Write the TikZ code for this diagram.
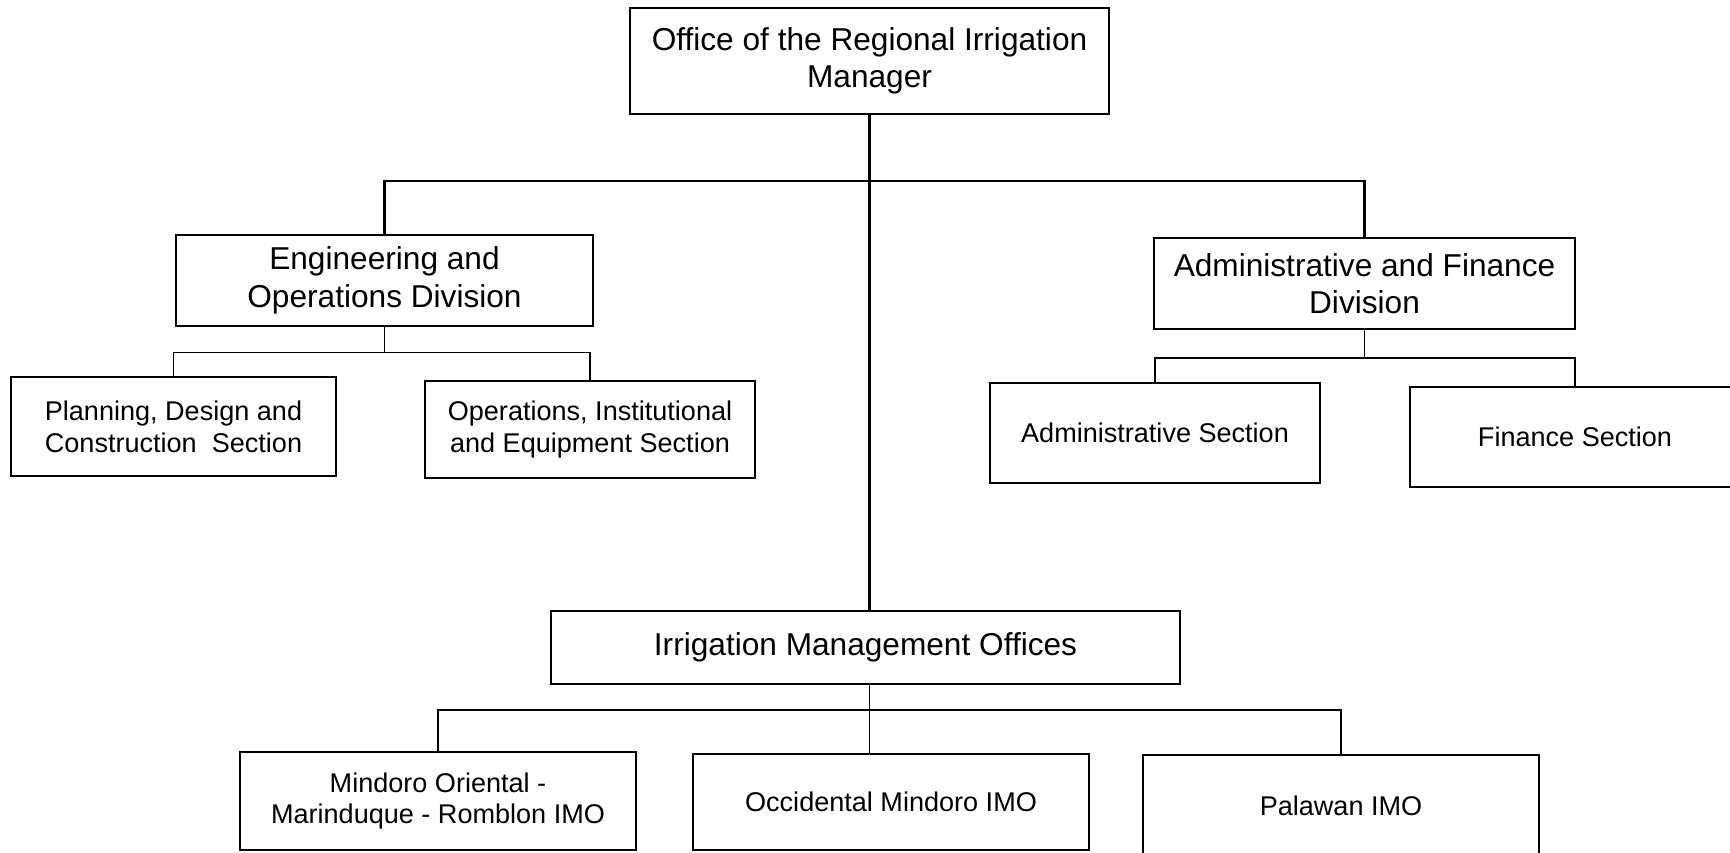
\documentclass[tikz,border=0pt]{standalone}
\usepackage{fontspec}
\setmainfont{Liberation Sans}

\begin{document}
\begin{tikzpicture}
\useasboundingbox (0,0) rectangle (17.30,-8.52);

%the office and the three big units, thick border and bigger text
\begin{scope}[every node/.style={rectangle,draw,line width=0.8pt,inner sep=0pt,align=center,
              font=\fontsize{9}{10.7}\selectfont}]
    \node[minimum width=4.79cm,minimum height=1.06cm] (orim) at (8.695,-0.61) {Office of the Regional Irrigation\\Manager};
    \node[minimum width=4.17cm,minimum height=0.91cm] (eod) at (3.845,-2.805) {Engineering and\\Operations Division};
    \node[minimum width=4.21cm,minimum height=0.91cm] (afd) at (13.645,-2.835) {Administrative and Finance\\Division};
    \node[minimum width=6.29cm,minimum height=0.73cm] (imo) at (8.655,-6.475) {Irrigation Management Offices};
\end{scope}

%the sections and the offices below them, thinner border and smaller text
\begin{scope}[every node/.style={rectangle,draw,line width=0.6pt,inner sep=0pt,align=center,
              font=\fontsize{7.7}{9.1}\selectfont}]
    \node[minimum width=3.25cm,minimum height=0.99cm] (pdc) at (1.735,-4.265) {Planning, Design and\\Construction\ \ Section};
    \node[minimum width=3.30cm,minimum height=0.97cm] (oie) at (5.90,-4.295) {Operations, Institutional\\and Equipment Section};
    \node[minimum width=3.30cm,minimum height=1.00cm] (adsec) at (11.55,-4.33) {Administrative Section};
    \node[minimum width=3.30cm,minimum height=1.00cm] (finsec) at (15.75,-4.37) {Finance Section};
    \node[minimum width=3.96cm,minimum height=0.98cm] (mor) at (4.38,-8.01) {Mindoro Oriental -\\Marinduque - Romblon IMO};
    \node[minimum width=3.96cm,minimum height=0.96cm] (occ) at (8.91,-8.02) {Occidental Mindoro IMO};
    \node[minimum width=3.96cm,minimum height=1.02cm] (pal) at (13.41,-8.06) {Palawan IMO};
\end{scope}

%where the lines split
\coordinate (top-split) at (8.695,-1.81);
\coordinate (eod-split) at (3.845,-3.525);
\coordinate (afd-split) at (13.645,-3.58);
\coordinate (imo-split) at (8.695,-7.10);

%thick lines from the office
\begin{scope}[line width=0.8pt]
    \draw (orim.south) -- (orim.south |- imo.north);
    \draw (eod.north) |- (top-split) -| (afd.north);
\end{scope}

%thin lines down to the sections and offices
\begin{scope}[line width=0.45pt]
    \draw (eod.south) -- (eod-split);
    \draw (pdc.north) |- (eod-split) -| (oie.north);
    \draw (afd.south) -- (afd-split);
    \draw (adsec.north) |- (afd-split) -| (finsec.north);
    \draw (imo-split |- imo.south) -- (imo-split |- occ.north);
    \draw (mor.north) |- (imo-split) -| (pal.north);
\end{scope}
\end{tikzpicture}
\end{document}
